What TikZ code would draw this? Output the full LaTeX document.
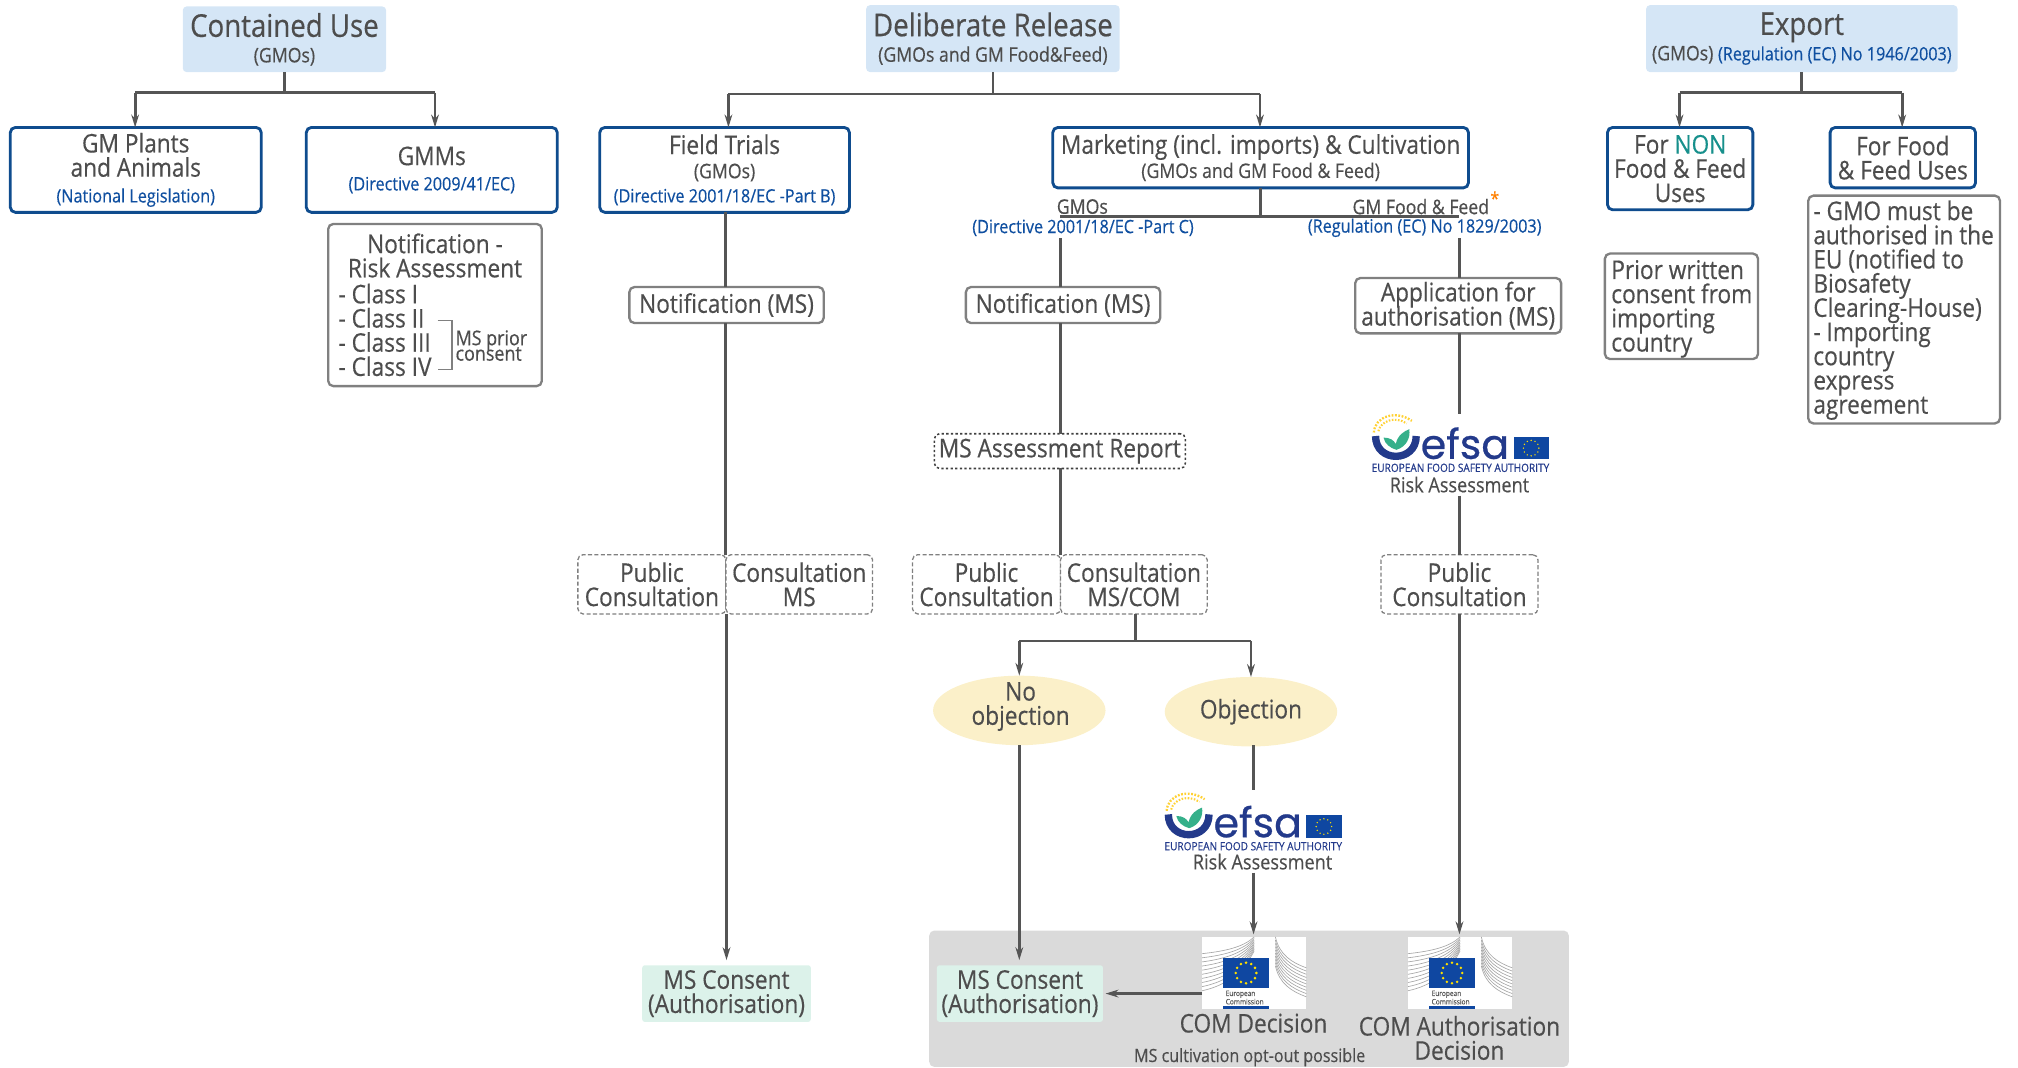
\documentclass[tikz,border=0pt]{standalone}
\usepackage{fontspec}
\setmainfont{Open Sans}[FakeStretch=0.88,FakeBold=0.4]
\newfontfamily\efsafont{Poppins}[FakeBold=0.6]
\usetikzlibrary{arrows.meta,calc}
\definecolor{txt}{HTML}{4D4D4D}
\definecolor{lin}{HTML}{555555}
\definecolor{bluebd}{HTML}{0F4C8E}
\definecolor{bluetx}{HTML}{0F4FA0}
\definecolor{headfill}{HTML}{D5E6F6}
\definecolor{mint}{HTML}{DCF2EA}
\definecolor{yell}{HTML}{FBF0C9}
\definecolor{panel}{HTML}{DADADA}
\definecolor{graybd}{HTML}{808080}
\definecolor{efsablue}{HTML}{233A8B}
\definecolor{efsagreen}{HTML}{35B08A}
\definecolor{eublue}{HTML}{0F47A1}
\definecolor{euyellow}{HTML}{FFE000}
\lineskiplimit=-30pt
\newcommand{\ftitle}{\fontsize{12.2}{13}\selectfont}
\newcommand{\fbody}{\fontsize{10}{9.4}\selectfont\lineskiplimit=-30pt}
\newcommand{\fsub}{\fontsize{7.8}{8.2}\selectfont}
\newcommand{\fblue}{\fontsize{7.15}{8}\selectfont\color{bluetx}}
\tikzset{
  x=0.5pt,y=-0.5pt,
  sz/.style 2 args={minimum width=#1*0.5pt,minimum height=#2*0.5pt},
  base/.style={inner sep=0pt,outer sep=0pt,align=center,text=txt,font=\fbody},
  headbox/.style={base,fill=headfill,rounded corners=1.5pt},
  bluebox/.style={base,draw=bluebd,line width=1.1pt,rounded corners=2pt,fill=white},
  graybox/.style={base,draw=graybd,line width=0.9pt,rounded corners=2pt,fill=white},
  dashbox/.style={base,draw=graybd,line width=0.5pt,dash pattern=on 1.6pt off 0.9pt,rounded corners=2pt,fill=white},
  dotbox/.style={base,draw=black!75,line width=0.6pt,dash pattern=on 0.9pt off 0.9pt,rounded corners=2pt,fill=white},
  mintbox/.style={base,fill=mint,rounded corners=1pt},
  lbl/.style={base},
  bluelbl/.style={base,text=bluetx,font=\fblue},
  conn/.style={draw=lin,line width=1.1pt},
  arr/.style={conn,-{Stealth[length=5pt,width=3pt]}},
}
\newcommand{\efsalogo}[3]{%
  \begin{scope}[shift={(#2,#3)}]
    \draw[line width=2.85pt,efsablue] (2.8,16.8) .. controls (2.8,37.8) and (34.4,37.8) .. (34.4,16.8);
    \fill[efsagreen] (9,18) .. controls (14,18) and (17,20) .. (18.5,23) .. controls (20,16) and (25,13) .. (29,11.5) .. controls (30,18) and (27,25) .. (19,27.5) .. controls (14,26) and (10,23) .. (9,18) -- cycle;
    \draw[line width=0.9pt,dash pattern=on 0.7pt off 0.6pt,color=orange!45!yellow!80!white] (1.5,14) .. controls (2,2) and (18,-4) .. (31,5);
    \draw[line width=0.8pt,dash pattern=on 0.6pt off 0.6pt,color=orange!45!yellow!80!white] (5,13) .. controls (7,5) and (18,1) .. (27,7);
    \node[inner sep=0pt,anchor=base west,text=efsablue] (#1t) at (37.5,34.5) {\efsafont\fontsize{16}{16}\selectfont efsa};
    \fill[eublue] (110,17.4) rectangle (137.5,35);
    \foreach \a in {0,30,...,330} \fill[euyellow] ($(123.7,26.2)+(\a:6)$) circle[radius=0.3pt];
    \node[inner sep=0pt,text=efsablue] (#1e) at (68.8,41.5) {\fontsize{4.45}{4.5}\selectfont EUROPEAN FOOD SAFETY AUTHORITY};
  \end{scope}}
\newcommand{\eclogo}[3]{%
  \begin{scope}[shift={(#2,#3)}]
    \fill[white] (0,0) rectangle (81,56);
    \foreach \i in {0,...,9} {
      \draw[black!35,line width=0.25pt] (0,13+\i*3.2) .. controls (18,11+\i*3) and (32,8+\i*2.2) .. (40.5,0+\i*1.2);
      \draw[black!35,line width=0.25pt] (57,0+\i*2.5) .. controls (60,14+\i*2.5) and (70,20+\i*2.5) .. (81,24+\i*2.5);
    }
    \fill[eublue] (16.4,16) rectangle (52,40);
    \foreach \a in {0,30,...,330} \fill[euyellow] ($(34.2,28)+(\a:8)$) circle[radius=0.55pt];
    \fill[white] (14,41) rectangle (54,54);
    \node[inner sep=0pt,anchor=west,text=black!65] (#1a) at (18,44.5) {\fontsize{2.9}{3}\selectfont European};
    \node[inner sep=0pt,anchor=west,text=black!65] (#1b) at (18,50.3) {\fontsize{2.9}{3}\selectfont Commission};
    \fill[eublue] (16.4,54) rectangle (52,56);
  \end{scope}}
\begin{document}
\begin{tikzpicture}
\useasboundingbox (0,0) rectangle (1568,829.07);
% grey panel
\fill[panel,rounded corners=2pt] (722,723) rectangle (1219,829);
% heads
\node[headbox,sz={158}{51}] (cu) at (221,30.5) {\raisebox{-1pt}{\ftitle Contained Use}\\[0.5pt]\raisebox{-1pt}{\fsub (GMOs)}};
\node[headbox,sz={197}{52}] (dr) at (771.5,30) {{\ftitle Deliberate Release}\\[0.5pt]{\fsub (GMOs and GM Food\&Feed)}};
\node[headbox,sz={242}{52}] (ex) at (1400,30) {{\ftitle Export}\\[0.5pt]{\fsub (GMOs) {\fblue(Regulation (EC) No 1946/2003)}}};
% level 2
\node[bluebox,sz={195}{66}] (gmp) at (105.5,132) {GM Plants\\and Animals\\[0.6pt]{\fblue(National Legislation)}};
\node[bluebox,sz={195}{66}] (gmm) at (335.5,132) {GMMs\\[0.4pt]{\fblue(Directive 2009/41/EC)}};
\node[bluebox,sz={194}{66}] (ft) at (563,132) {Field Trials\\{\fsub (GMOs)}\\{\fblue(Directive 2001/18/EC -Part B)}};
\node[bluebox,sz={323}{47}] (mk) at (979.5,122.5) {Marketing (incl. imports) \& Cultivation\\{\fsub (GMOs and GM Food \& Feed)}};
\node[bluebox,sz={113}{64}] (nonf) at (1305.5,131) {For {\color[HTML]{17908C}NON}\\Food \& Feed\\Uses};
\node[bluebox,sz={113}{47}] (food) at (1478.5,122.5) {For Food\\\& Feed Uses};
% notification box
\node[graybox,sz={166}{126}] (nra) at (338,237) {};
\node[lbl] (nrat) at (338,198.5) {Notification -\\Risk Assessment};
\node[lbl,anchor=north west,align=left] (nrac) at (263,220.5) {- Class I\\- Class II\\- Class III\\- Class IV};
\node[lbl,anchor=west,align=left,font=\fontsize{7.9}{6}\selectfont] (nram) at (354,268.5) {MS prior\\consent};
\coordinate (bt) at (340,249); \coordinate (bb) at (340,287); \coordinate (bx) at (351,268);
\draw[graybd,line width=0.6pt] (bt) -| (bx) |- (bb);
% export boxes
\node[graybox,sz={119}{82}] (prior) at (1306.5,238) {};
\node[lbl,anchor=west,align=left] (priort) at (1252,240) {Prior written\\consent from\\importing\\country};
\node[graybox,sz={149}{177}] (gmo) at (1479.5,240.5) {};
\node[lbl,anchor=west,align=left] (gmot) at (1409,241) {- GMO must be\\authorised in the\\EU (notified to\\Biosafety\\Clearing-House)\\- Importing\\country\\express\\agreement};
% trees top
\coordinate (cuj) at (cu.south |- 0,72);
\coordinate (cul) at (105,72); \coordinate (cur) at (338,72);
\draw[conn] (cu.south) -- (cuj); \draw[conn] (cul) -- (cur);
\draw[arr] (cul) -- (cul |- gmp.north);
\draw[arr] (cur) -- (cur |- gmm.north);
\coordinate (drj) at (dr.south |- 0,73);
\coordinate (drl) at (566,73); \coordinate (drr) at (979,73);
\draw[conn] (dr.south) -- (drj); \draw[conn] (drl) -- (drr);
\draw[arr] (drl) -- (drl |- ft.north);
\draw[arr] (drr) -- (drr |- mk.north);
\coordinate (exj) at (ex.south |- 0,72);
\coordinate (exl) at (1305,72); \coordinate (exr) at (1478,72);
\draw[conn] (ex.south) -- (exj); \draw[conn] (exl) -- (exr);
\draw[arr] (exl) -- (exl |- nonf.north);
\draw[arr] (exr) -- (exr |- food.north);
% marketing split
\coordinate (mkj) at (mk.south |- 0,168);
\coordinate (mkl) at (824,168); \coordinate (mkr) at (1134,168);
\draw[conn] (mk.south) -- (mkj); \draw[conn] (mkl) -- (mkr);
\node[lbl,font=\fsub] (lgmo) at (841,160.5) {GMOs};
\node[bluelbl] (ldirc) at (841.5,177) {(Directive 2001/18/EC -Part C)};
\node[lbl,font=\fsub] (lfood) at (1104,160.5) {GM Food \& Feed};
\node[bluelbl] (lreg) at (1107,177) {(Regulation (EC) No 1829/2003)};
\node[inner sep=0pt,text=orange,font=\fontsize{7}{7}\selectfont] (lstar) at (1161.5,154) {*};
% field trial column
\node[graybox,sz={151}{28}] (n1) at (564.5,237) {Notification (MS)};
\node[dashbox,sz={115}{46}] (pc1) at (506.5,454) {Public\\Consultation};
\node[dashbox,sz={114}{46}] (cm1) at (621,454) {Consultation\\MS};
\node[mintbox,sz={131}{44}] (msc1) at (564.5,772) {MS Consent\\(Authorisation)};
\draw[conn] (ft.south -| n1.north) ++(-1,0) coordinate (f1) -- (f1 |- n1.north);
\draw[conn] (f1 |- n1.south) -- (f1 |- cm1.north);
\draw[arr] (msc1.north |- cm1.south) -- ($(msc1.north)+(0,-4)$);
% GMO column
\node[graybox,sz={151}{28}] (n2) at (826,237) {Notification (MS)};
\node[dotbox,sz={195}{27}] (mar) at (823.5,350.5) {\raisebox{-2pt}{MS Assessment Report}};
\node[dashbox,sz={115}{46}] (pc2) at (766.5,454) {Public\\Consultation};
\node[dashbox,sz={114}{46}] (cm2) at (881,454) {Consultation\\MS/COM};
\coordinate (g0) at (824,185);
\draw[conn] (g0) -- (g0 |- n2.north);
\draw[conn] (g0 |- n2.south) -- (g0 |- mar.north);
\draw[conn] (g0 |- mar.south) -- (g0 |- cm2.north);
\coordinate (sp) at (882,498); \coordinate (spl) at (792,498); \coordinate (spr) at (972,498);
\draw[conn] (sp |- cm2.south) -- (sp); \draw[conn] (spl) -- (spr);
\fill[yell] (792,552) ellipse[x radius=67,y radius=27];
\fill[yell] (972,553) ellipse[x radius=67,y radius=27];
\node[lbl] (noobj) at (793,549) {No\\objection};
\node[lbl] (obj) at (972,553) {Objection};
\draw[arr] (spl) -- (792,525);
\draw[arr] (spr) -- (972,526);
\node[mintbox,sz={129}{44}] (msc2) at (792.5,772) {MS Consent\\(Authorisation)};
\coordinate (noe) at (792,579);
\draw[arr] (noe) -- ($(msc2.north)+(-0.5,-4)$);
\coordinate (oe) at (974,579); \coordinate (oe2) at (974,614);
\draw[conn] (oe) -- (oe2);
\efsalogo{ea}{905}{616}
\node[lbl,font=\fontsize{8}{9}\selectfont] (ra1) at (981,669.5) {Risk Assessment};
\coordinate (ra1s) at (974,678);
\eclogo{ec1}{934}{728}
\eclogo{ec2}{1094}{728}
\coordinate (ec1t) at (974,726);
\draw[arr] (ra1s) -- (ec1t);
\node[lbl] (cd) at (974,795) {COM Decision};
\coordinate (ec1w) at (934,772);
\draw[arr] (ec1w) -- ($(msc2.east |- ec1w)+(2,0)$);
\node[lbl,font=\fontsize{7.1}{8}\selectfont] (opt) at (971,821.5) {MS cultivation opt-out possible};
% food column
\node[graybox,sz={160}{43}] (app) at (1133,237.5) {Application for\\authorisation (MS)};
\node[dashbox,sz={122}{46}] (pc3) at (1134,454) {Public\\Consultation};
\coordinate (h0) at (1134,185);
\draw[conn] (h0) -- (h0 |- app.north);
\draw[conn] (h0 |- app.south) -- (1134,322);
\efsalogo{eb}{1066}{322}
\node[lbl,font=\fontsize{8}{9}\selectfont] (ra2) at (1134,376.5) {Risk Assessment};
\coordinate (ra2s) at (1134,385);
\draw[conn] (ra2s) -- (ra2s |- pc3.north);
\coordinate (ec2t) at (1134,726);
\draw[arr] (ra2s |- pc3.south) -- (ec2t);
\node[lbl] (cad) at (1134,806.5) {COM Authorisation\\Decision};
\end{tikzpicture}
\end{document}
